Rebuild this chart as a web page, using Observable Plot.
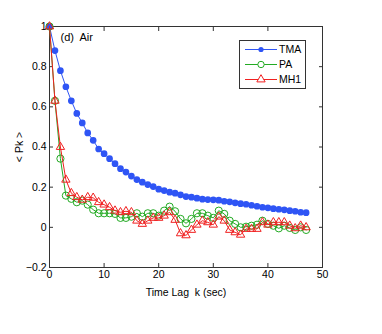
<!DOCTYPE html>
<html>
<head>
<meta charset="utf-8">
<script src="https://cdn.jsdelivr.net/npm/d3@7"></script>
<script src="https://cdn.jsdelivr.net/npm/@observablehq/plot@0.6"></script>
<style>
  body { margin: 0; background: #fff; }
  #chart { position: relative; width: 382px; height: 334px; }
</style>
</head>
<body>
<div id="chart"></div>
<script>
const lags = d3.range(0, 48);
const tma = [1.0, 0.88, 0.78, 0.70, 0.63, 0.567, 0.52, 0.47, 0.433, 0.39,
  0.367, 0.342, 0.317, 0.292, 0.275, 0.255, 0.238, 0.225, 0.213, 0.203,
  0.19, 0.183, 0.175, 0.17, 0.162, 0.153, 0.15, 0.145, 0.14, 0.138,
  0.137, 0.135, 0.13, 0.127, 0.122, 0.118, 0.115, 0.11, 0.105, 0.1,
  0.097, 0.093, 0.09, 0.087, 0.083, 0.08, 0.075, 0.073];
const pa = [1.0, 0.63, 0.342, 0.158, 0.142, 0.125, 0.133, 0.113, 0.088, 0.07,
  0.07, 0.07, 0.067, 0.047, 0.047, 0.053, 0.07, 0.053, 0.07, 0.07,
  0.058, 0.083, 0.103, 0.08, 0.042, 0.02, 0.042, 0.07, 0.07, 0.058,
  0.047, 0.083, 0.067, 0.033, 0.017, 0.0, 0.003, 0.008, 0.013, 0.033,
  0.017, 0.008, -0.005, 0.008, -0.003, -0.013, 0.0, -0.013];
const mh1 = [1.0, 0.63, 0.40, 0.237, 0.17, 0.15, 0.137, 0.15, 0.147, 0.125,
  0.113, 0.10, 0.083, 0.075, 0.08, 0.075, 0.033, 0.017, 0.033, 0.047,
  0.047, 0.058, 0.075, 0.037, -0.03, -0.04, -0.013, 0.013, 0.033, 0.025,
  0.013, 0.053, 0.033, -0.013, -0.025, -0.037, -0.008, -0.008, -0.008, 0.025,
  0.013, 0.025, 0.025, 0.025, 0.008, -0.005, 0.008, 0.0];
const seriesNames = ["TMA", "PA", "MH1"];
const seriesColors = ["#2f55f5", "#22aa22", "#f02020"];
const xTicks = [0, 10, 20, 30, 40, 50];
const yTicks = [-0.2, 0, 0.2, 0.4, 0.6, 0.8, 1];
const panelLabel = "(d)  Air";

const rows = (vals) => lags.map((k, i) => ({k, v: vals[i]}));
const dTMA = rows(tma), dPA = rows(pa), dMH1 = rows(mh1);
const fmt = d3.format("~g");
const font = "Liberation Sans, Arial, Helvetica, sans-serif";

const plot = Plot.plot({
  width: 382,
  height: 334,
  marginLeft: 49,
  marginRight: 60,
  marginTop: 26,
  marginBottom: 67,
  style: {fontFamily: font, fontSize: "10.5px", color: "#000", background: "#fff"},
  x: {domain: [0, 50], ticks: xTicks},
  y: {domain: [-0.2, 1], ticks: yTicks},
  marks: [
    Plot.frame({stroke: "#333", strokeWidth: 1}),
    Plot.axisX({ticks: xTicks, tickSize: -4, tickPadding: 7, tickFormat: fmt, label: "Time Lag  k (sec)", labelAnchor: "center", labelOffset: 28, labelArrow: "none", stroke: "#333"}),
    Plot.axisX({anchor: "top", ticks: xTicks, tickSize: -4, tickFormat: () => "", label: null, stroke: "#333"}),
    Plot.axisY({ticks: yTicks, tickSize: -4, tickPadding: 7, tickFormat: fmt, label: "< Pk >", labelAnchor: "center", labelOffset: 34, labelArrow: "none", stroke: "#333"}),
    Plot.axisY({anchor: "right", ticks: yTicks, tickSize: -4, tickFormat: () => "", label: null, stroke: "#333"}),
    Plot.line(dTMA, {x: "k", y: "v", stroke: seriesColors[0], strokeWidth: 1}),
    Plot.dot(dTMA, {x: "k", y: "v", fill: seriesColors[0], stroke: seriesColors[0], r: 2.6}),
    Plot.line(dPA, {x: "k", y: "v", stroke: seriesColors[1], strokeWidth: 1}),
    Plot.dot(dPA, {x: "k", y: "v", stroke: seriesColors[1], fill: "none", r: 3.6, strokeWidth: 1}),
    Plot.line(dMH1, {x: "k", y: "v", stroke: seriesColors[2], strokeWidth: 1}),
    Plot.dot(dMH1, {x: "k", y: "v", stroke: seriesColors[2], fill: "none", symbol: "triangle", r: 3.1, strokeWidth: 1}),
    Plot.text([panelLabel], {frameAnchor: "top-left", dx: 11, dy: 7, text: d => d, fontSize: 11, fill: "#000"})
  ]
});
document.getElementById("chart").appendChild(plot);

// legend drawn inside the SVG
const svg = d3.select(plot);
const lg = svg.append("g").attr("font-family", font).attr("font-size", 10.5).attr("text-anchor", "start");
lg.append("rect").attr("x", 239.5).attr("y", 40.5).attr("width", 66).attr("height", 48)
  .attr("fill", "#fff").attr("stroke", "#333");
const symTri = d3.symbol(d3.symbolTriangle, 30)();
seriesNames.forEach((name, i) => {
  const y = 49.5 + i * 15;
  const c = seriesColors[i];
  lg.append("line").attr("x1", 245).attr("x2", 277).attr("y1", y).attr("y2", y).attr("stroke", c);
  if (i === 0) lg.append("circle").attr("cx", 261).attr("cy", y).attr("r", 2.6).attr("fill", c);
  if (i === 1) lg.append("circle").attr("cx", 261).attr("cy", y).attr("r", 3.2).attr("fill", "#fff").attr("stroke", c);
  if (i === 2) lg.append("path").attr("d", symTri).attr("transform", `translate(261,${y})`).attr("fill", "#fff").attr("stroke", c);
  lg.append("text").attr("x", 279).attr("y", y).attr("dy", "0.35em").attr("text-anchor", "start").text(name).attr("fill", "#000");
});
</script>
</body>
</html>
